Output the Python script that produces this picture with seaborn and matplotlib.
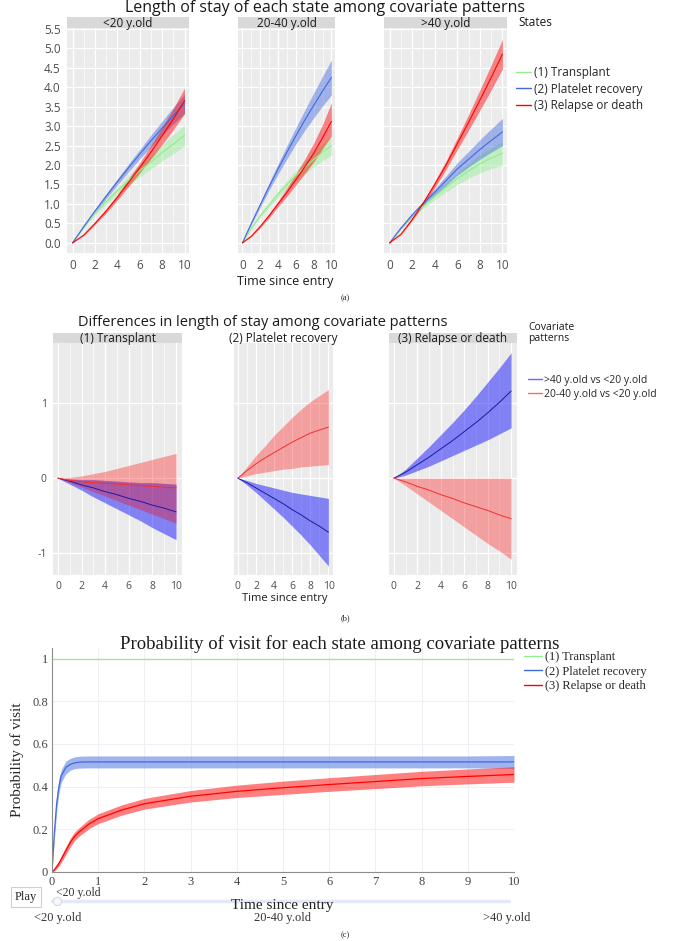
import numpy as np
import pandas as pd
import matplotlib
matplotlib.use("Agg")
import matplotlib.pyplot as plt
import seaborn as sns
from matplotlib.lines import Line2D
from matplotlib.ticker import MultipleLocator

# ---- (a) length of stay, by age group ----
t_a = [0, 1, 2, 3, 4, 5, 6, 7, 8, 9, 10]
states = ["(1) Transplant", "(2) Platelet recovery", "(3) Relapse or death"]
age_groups = ["<20 y.old", "20-40 y.old", ">40 y.old"]

lt20_tx = [0, 0.42, 0.76, 1.06, 1.34, 1.60, 1.85, 2.08, 2.32, 2.54, 2.76]
lt20_tx_lo = [0, 0.40, 0.72, 1.00, 1.25, 1.48, 1.70, 1.90, 2.11, 2.30, 2.49]
lt20_tx_hi = [0, 0.44, 0.80, 1.12, 1.43, 1.72, 2.00, 2.26, 2.53, 2.78, 3.03]
lt20_pl = [0, 0.42, 0.82, 1.20, 1.57, 1.93, 2.28, 2.62, 2.95, 3.27, 3.57]
lt20_pl_lo = [0, 0.40, 0.78, 1.14, 1.49, 1.83, 2.16, 2.47, 2.77, 3.06, 3.32]
lt20_pl_hi = [0, 0.44, 0.86, 1.26, 1.65, 2.03, 2.40, 2.77, 3.13, 3.48, 3.82]
lt20_rd = [0, 0.20, 0.50, 0.82, 1.17, 1.55, 1.93, 2.33, 2.75, 3.18, 3.65]
lt20_rd_lo = [0, 0.19, 0.47, 0.77, 1.10, 1.45, 1.80, 2.16, 2.53, 2.91, 3.32]
lt20_rd_hi = [0, 0.21, 0.53, 0.87, 1.24, 1.65, 2.06, 2.50, 2.97, 3.45, 3.98]

mid_tx = [0, 0.38, 0.70, 0.98, 1.25, 1.50, 1.73, 1.94, 2.14, 2.33, 2.50]
mid_tx_lo = [0, 0.36, 0.66, 0.92, 1.17, 1.40, 1.60, 1.78, 1.95, 2.11, 2.25]
mid_tx_hi = [0, 0.40, 0.74, 1.04, 1.33, 1.60, 1.86, 2.10, 2.33, 2.55, 2.75]
mid_pl = [0, 0.50, 0.98, 1.45, 1.90, 2.33, 2.75, 3.15, 3.53, 3.90, 4.25]
mid_pl_lo = [0, 0.47, 0.92, 1.36, 1.77, 2.16, 2.54, 2.89, 3.21, 3.52, 3.80]
mid_pl_hi = [0, 0.53, 1.04, 1.54, 2.03, 2.50, 2.96, 3.41, 3.85, 4.28, 4.70]
mid_rd = [0, 0.17, 0.42, 0.70, 1.00, 1.30, 1.62, 1.95, 2.30, 2.70, 3.12]
mid_rd_lo = [0, 0.16, 0.39, 0.65, 0.93, 1.20, 1.49, 1.78, 2.08, 2.42, 2.75]
mid_rd_hi = [0, 0.18, 0.45, 0.75, 1.07, 1.41, 1.77, 2.15, 2.56, 3.04, 3.60]

gt40_tx = [0, 0.38, 0.70, 0.95, 1.20, 1.43, 1.65, 1.85, 2.03, 2.18, 2.30]
gt40_tx_lo = [0, 0.36, 0.66, 0.89, 1.11, 1.31, 1.50, 1.66, 1.80, 1.91, 2.00]
gt40_tx_hi = [0, 0.40, 0.74, 1.01, 1.29, 1.55, 1.80, 2.04, 2.26, 2.45, 2.60]
gt40_pl = [0, 0.38, 0.72, 1.02, 1.30, 1.60, 1.90, 2.15, 2.40, 2.63, 2.85]
gt40_pl_lo = [0, 0.36, 0.68, 0.96, 1.21, 1.48, 1.74, 1.95, 2.15, 2.33, 2.50]
gt40_pl_hi = [0, 0.40, 0.76, 1.08, 1.39, 1.72, 2.06, 2.35, 2.65, 2.93, 3.20]
gt40_rd = [0, 0.22, 0.60, 1.03, 1.50, 2.00, 2.55, 3.10, 3.67, 4.25, 4.85]
gt40_rd_lo = [0, 0.21, 0.57, 0.98, 1.42, 1.89, 2.40, 2.90, 3.41, 3.93, 4.47]
gt40_rd_hi = [0, 0.23, 0.63, 1.08, 1.58, 2.11, 2.70, 3.30, 3.93, 4.57, 5.23]

# ---- (b) differences vs <20 y.old ----
t_b = [0, 1, 2, 3, 4, 5, 6, 7, 8, 9, 10]
contrasts = [">40 y.old vs <20 y.old", "20-40 y.old vs <20 y.old"]

tx_old = [0, -0.04, -0.09, -0.13, -0.18, -0.22, -0.27, -0.31, -0.36, -0.40, -0.45]
tx_old_lo = [0, -0.08, -0.16, -0.25, -0.33, -0.41, -0.49, -0.57, -0.66, -0.74, -0.82]
tx_old_hi = [0, -0.01, -0.02, -0.02, -0.03, -0.04, -0.05, -0.06, -0.06, -0.07, -0.08]
tx_mid = [0, -0.03, -0.05, -0.06, -0.07, -0.08, -0.09, -0.10, -0.11, -0.12, -0.13]
tx_mid_lo = [0, -0.06, -0.12, -0.18, -0.24, -0.30, -0.36, -0.42, -0.48, -0.54, -0.60]
tx_mid_hi = [0, 0.01, 0.03, 0.06, 0.09, 0.13, 0.17, 0.21, 0.25, 0.29, 0.33]

pl_old = [0, -0.06, -0.13, -0.20, -0.27, -0.34, -0.42, -0.49, -0.57, -0.64, -0.72]
pl_old_lo = [0, -0.09, -0.19, -0.30, -0.41, -0.52, -0.64, -0.76, -0.89, -1.03, -1.17]
pl_old_hi = [0, -0.03, -0.07, -0.10, -0.13, -0.16, -0.19, -0.21, -0.23, -0.25, -0.27]
pl_mid = [0, 0.10, 0.19, 0.27, 0.34, 0.41, 0.48, 0.54, 0.60, 0.64, 0.68]
pl_mid_lo = [0, 0.03, 0.06, 0.08, 0.10, 0.12, 0.13, 0.15, 0.16, 0.17, 0.18]
pl_mid_hi = [0, 0.15, 0.30, 0.43, 0.57, 0.69, 0.81, 0.92, 1.02, 1.10, 1.18]

rd_old = [0, 0.08, 0.18, 0.28, 0.39, 0.50, 0.62, 0.74, 0.87, 1.01, 1.16]
rd_old_lo = [0, 0.04, 0.10, 0.16, 0.23, 0.30, 0.37, 0.44, 0.51, 0.59, 0.67]
rd_old_hi = [0, 0.12, 0.27, 0.42, 0.58, 0.74, 0.91, 1.09, 1.28, 1.47, 1.67]
rd_mid = [0, -0.05, -0.11, -0.16, -0.22, -0.27, -0.33, -0.38, -0.43, -0.49, -0.54]
rd_mid_lo = [0, -0.10, -0.21, -0.32, -0.43, -0.54, -0.65, -0.76, -0.87, -0.97, -1.08]
rd_mid_hi = [0, 0, 0, 0, 0, 0, 0, 0, 0, 0, 0]

# ---- (c) probability of visit (<20 y.old frame) ----
t_c = [0, 0.05, 0.1, 0.15, 0.2, 0.3, 0.4, 0.5, 0.6, 0.8, 1, 1.5, 2, 3, 4, 5, 6, 7, 8, 9, 10]
p_tx = [1] * 21
p_pl = [0, 0.18, 0.32, 0.40, 0.45, 0.49, 0.505, 0.512, 0.515, 0.516, 0.516, 0.516, 0.516,
        0.516, 0.516, 0.516, 0.516, 0.516, 0.516, 0.516, 0.516]
p_pl_lo = [0, 0.15, 0.28, 0.37, 0.42, 0.46, 0.478, 0.485, 0.487, 0.488, 0.488, 0.488, 0.488,
           0.488, 0.488, 0.488, 0.488, 0.488, 0.488, 0.488, 0.486]
p_pl_hi = [0, 0.21, 0.36, 0.44, 0.48, 0.52, 0.533, 0.540, 0.543, 0.544, 0.544, 0.544, 0.544,
           0.544, 0.544, 0.544, 0.544, 0.544, 0.544, 0.544, 0.546]
p_rd = [0, 0.01, 0.025, 0.04, 0.06, 0.10, 0.14, 0.17, 0.19, 0.225, 0.25, 0.29, 0.32,
        0.355, 0.378, 0.395, 0.41, 0.424, 0.438, 0.448, 0.457]
p_rd_lo = [0, 0.005, 0.015, 0.028, 0.045, 0.082, 0.12, 0.15, 0.17, 0.203, 0.227, 0.266, 0.295,
           0.328, 0.349, 0.364, 0.378, 0.391, 0.404, 0.413, 0.421]
p_rd_hi = [0, 0.015, 0.035, 0.052, 0.075, 0.118, 0.16, 0.19, 0.21, 0.247, 0.273, 0.314, 0.345,
           0.382, 0.407, 0.426, 0.442, 0.457, 0.472, 0.483, 0.493]
slider_labels = ["<20 y.old", "20-40 y.old", ">40 y.old"]

W, H = 685, 941
sns.set_theme(style="darkgrid", rc={"axes.facecolor": "#EBEBEB", "grid.color": "white"})
plt.rcParams["font.family"] = ["Open Sans", "DejaVu Sans"]
SERIF = ["Liberation Serif", "DejaVu Serif"]
GREY = "#4D4D4D"


def rect(x0, y0, x1, y1):
    return [x0 / W, 1 - y1 / H, (x1 - x0) / W, (y1 - y0) / H]


def long_df(t, series, names):
    return pd.DataFrame({
        "time": np.tile(t, len(series)),
        "value": np.concatenate(series),
        "group": np.repeat(names, len(t)),
    })


def gg_axes(ax, strip_box, strip_text, strip_bg=True):
    ax.xaxis.set_minor_locator(MultipleLocator(1))
    ax.grid(True, which="major", color="white", lw=0.9)
    ax.grid(True, which="minor", color="white", lw=0.45)
    ax.tick_params(axis="both", colors="#7F7F7F", labelcolor=GREY, labelsize=8.5,
                   length=2.5, width=0.6, pad=2)
    for s in ax.spines.values():
        s.set_visible(False)
    ax.set_xlabel("")
    ax.set_ylabel("")
    sax = fig.add_axes(rect(*strip_box))
    sax.set_facecolor("#D9D9D9" if strip_bg else "none")
    sax.set_xticks([])
    sax.set_yticks([])
    for s in sax.spines.values():
        s.set_visible(False)
    sax.text(0.5, 0.45, strip_text, ha="center", va="center", fontsize=8.5, color="#1A1A1A")


fig = plt.figure(figsize=(W / 100, H / 100), dpi=100)

# ---------------- (a) ----------------
col_a = {states[0]: "#90EE90", states[1]: "#4169E1", states[2]: "#FF0000"}
panels_a = [
    ((67, 28, 189, 253), [(lt20_tx, lt20_tx_lo, lt20_tx_hi), (lt20_pl, lt20_pl_lo, lt20_pl_hi),
                          (lt20_rd, lt20_rd_lo, lt20_rd_hi)]),
    ((238, 28, 335, 253), [(mid_tx, mid_tx_lo, mid_tx_hi), (mid_pl, mid_pl_lo, mid_pl_hi),
                           (mid_rd, mid_rd_lo, mid_rd_hi)]),
    ((384, 28, 507, 253), [(gt40_tx, gt40_tx_lo, gt40_tx_hi), (gt40_pl, gt40_pl_lo, gt40_pl_hi),
                           (gt40_rd, gt40_rd_lo, gt40_rd_hi)]),
]
for i, (box, curves) in enumerate(panels_a):
    ax = fig.add_axes(rect(*box))
    for st, (m, lo, hi) in zip(states, curves):
        ax.fill_between(t_a, lo, hi, color=col_a[st], alpha=0.45, lw=0)
    df = long_df(t_a, [c[0] for c in curves], states)
    sns.lineplot(data=df, x="time", y="value", hue="group", palette=col_a, ax=ax,
                 legend=False, lw=0.8)
    ax.set_xlim(-0.5, 10.4)
    ax.set_ylim(-0.26, 5.52)
    ax.set_xticks([0, 2, 4, 6, 8, 10])
    ax.set_yticks(np.arange(0, 5.51, 0.5))
    gg_axes(ax, (box[0], 17, box[2], 28), age_groups[i])
    if i == 0:
        ax.set_yticklabels([f"{v:.1f}" for v in np.arange(0, 5.51, 0.5)])
    else:
        ax.tick_params(axis="y", labelleft=False, length=0)

fig.text(325 / W, 1 - 8 / H, "Length of stay of each state among covariate patterns",
         ha="center", va="center", fontsize=11.5, color="#1A1A1A")
fig.text(285 / W, 1 - 282 / H, "Time since entry", ha="center", va="center",
         fontsize=9, color="#1A1A1A")
fig.text(518 / W, 1 - 22 / H, "States", ha="left", va="center", fontsize=8.5, color="#1A1A1A")
fig.legend([Line2D([], [], color=col_a[s], lw=1) for s in states], states,
           loc="upper left", bbox_to_anchor=(516 / W, 1 - 66 / H), frameon=False,
           fontsize=8.5, handlelength=1.3, handletextpad=0.2, labelspacing=0.3,
           borderaxespad=0, borderpad=0)
fig.text(345 / W, 1 - 298 / H, "(a)", ha="center", va="center", fontsize=6, family=SERIF)

# ---------------- (b) ----------------
col_b_band = {contrasts[0]: "#0000FF", contrasts[1]: "#FF0000"}
col_b_line = {contrasts[0]: "#1A1AA6", contrasts[1]: "#F03030"}
alpha_b = {contrasts[0]: 0.45, contrasts[1]: 0.32}
panels_b = [
    ((53, 343, 182, 575), states[0], [(tx_old, tx_old_lo, tx_old_hi), (tx_mid, tx_mid_lo, tx_mid_hi)]),
    ((234, 343, 333, 575), states[1], [(pl_old, pl_old_lo, pl_old_hi), (pl_mid, pl_mid_lo, pl_mid_hi)]),
    ((389, 343, 517, 575), states[2], [(rd_old, rd_old_lo, rd_old_hi), (rd_mid, rd_mid_lo, rd_mid_hi)]),
]
for i, (box, title, curves) in enumerate(panels_b):
    ax = fig.add_axes(rect(*box))
    for ct, (m, lo, hi) in zip(contrasts, curves):
        ax.fill_between(t_b, lo, hi, color=col_b_band[ct], alpha=alpha_b[ct], lw=0)
    df = long_df(t_b, [c[0] for c in curves], contrasts)
    sns.lineplot(data=df, x="time", y="value", hue="group", palette=col_b_line, ax=ax,
                 legend=False, lw=0.7)
    ax.set_xlim(-0.42, 10.5)
    ax.set_ylim(-1.29, 1.8)
    ax.set_xticks([0, 2, 4, 6, 8, 10])
    ax.set_yticks([-1, 0, 1])
    strip_box = (box[0], 333, box[2], 343)
    gg_axes(ax, strip_box, title, strip_bg=(i != 1))
    ax.tick_params(axis="both", labelsize=7.5)
    if i == 0:
        ax.set_yticklabels(["-1", "0", "1"])
    else:
        ax.tick_params(axis="y", labelleft=False, length=0)

fig.text(263 / W, 1 - 322 / H, "Differences in length of stay among covariate patterns",
         ha="center", va="center", fontsize=10.5, color="#1A1A1A")
fig.text(285 / W, 1 - 598 / H, "Time since entry", ha="center", va="center",
         fontsize=8, color="#1A1A1A")
fig.text(528 / W, 1 - 333 / H, "Covariate\npatterns", ha="left", va="center",
         fontsize=7.5, color="#1A1A1A", linespacing=1.1)
fig.legend([Line2D([], [], color=col_b_band[c], alpha=0.6, lw=1) for c in contrasts], contrasts,
           loc="upper left", bbox_to_anchor=(528 / W, 1 - 375 / H), frameon=False,
           fontsize=7.5, handlelength=1.3, handletextpad=0.2, labelspacing=0.25,
           borderaxespad=0, borderpad=0)
fig.text(345 / W, 1 - 618 / H, "(b)", ha="center", va="center", fontsize=6, family=SERIF)

# ---------------- (c) ----------------
col_c = {states[0]: "#90EE90", states[1]: "#4169E1", states[2]: "#FF0000"}
axc = fig.add_axes(rect(52, 648, 514, 872))
axc.set_facecolor("white")
axc.fill_between(t_c, p_pl_lo, p_pl_hi, color=col_c[states[1]], alpha=0.5, lw=0)
axc.fill_between(t_c, p_rd_lo, p_rd_hi, color=col_c[states[2]], alpha=0.5, lw=0)
df_c = long_df(t_c, [p_tx, p_pl, p_rd], states)
sns.lineplot(data=df_c, x="time", y="value", hue="group", palette=col_c, ax=axc,
             legend=False, lw=0.9)
axc.set_xlim(0, 10)
axc.set_ylim(0, 1.05)
axc.set_xticks(range(11))
axc.set_yticks([0, 0.2, 0.4, 0.6, 0.8, 1])
axc.set_yticklabels(["0", "0.2", "0.4", "0.6", "0.8", "1"])
axc.grid(True, color="#EEF0F6", lw=0.8)
for side in ["top", "right"]:
    axc.spines[side].set_visible(False)
for side in ["left", "bottom"]:
    axc.spines[side].set_visible(True)
    axc.spines[side].set_color("#8C8C8C")
    axc.spines[side].set_linewidth(0.8)
axc.tick_params(axis="both", labelsize=9, colors="#444444", length=0, pad=3)
for lab in axc.get_xticklabels() + axc.get_yticklabels():
    lab.set_family(SERIF)
axc.set_xlabel("")
axc.set_ylabel("Probability of visit", family=SERIF, fontsize=11, labelpad=6)

fig.text(340 / W, 1 - 644 / H, "Probability of visit for each state among covariate patterns",
         ha="center", va="center", fontsize=13.5, family=SERIF, color="#1A1A1A")
fig.legend([Line2D([], [], color=col_c[s], lw=1) for s in states], states,
           loc="upper left", bbox_to_anchor=(524 / W, 1 - 651 / H), frameon=False,
           prop={"family": SERIF, "size": 9}, handlelength=1.4, handletextpad=0.3,
           labelspacing=0.2, borderaxespad=0, borderpad=0)

# play button + slider
fig.text(26 / W, 1 - 897 / H, "Play", ha="center", va="center", fontsize=9, family=SERIF,
         bbox=dict(boxstyle="square,pad=0.3", fc="white", ec="#D0D0D0", lw=0.8))
fig.text(56 / W, 1 - 893 / H, "<20 y.old", ha="left", va="center", fontsize=8.5, family=SERIF,
         color="#333333")
fig.add_artist(Line2D([52 / W, 509 / W], [1 - 901 / H] * 2, color="#E3E9F5", lw=2.5))
fig.add_artist(Line2D([57 / W], [1 - 901 / H], marker="o", ms=6, mfc="#F5F7FB",
                      mec="#D3DBEA", mew=0.8))
fig.text(282 / W, 1 - 906 / H, "Time since entry", ha="center", va="center",
         fontsize=11, family=SERIF, color="#222222")
for lab, x in zip(slider_labels, [58, 283, 507]):
    fig.text(x / W, 1 - 918 / H, lab, ha="center", va="center", fontsize=9, family=SERIF,
             color="#333333")
fig.text(345 / W, 1 - 935 / H, "(c)", ha="center", va="center", fontsize=6, family=SERIF)

fig.savefig("out.png", dpi=100)
